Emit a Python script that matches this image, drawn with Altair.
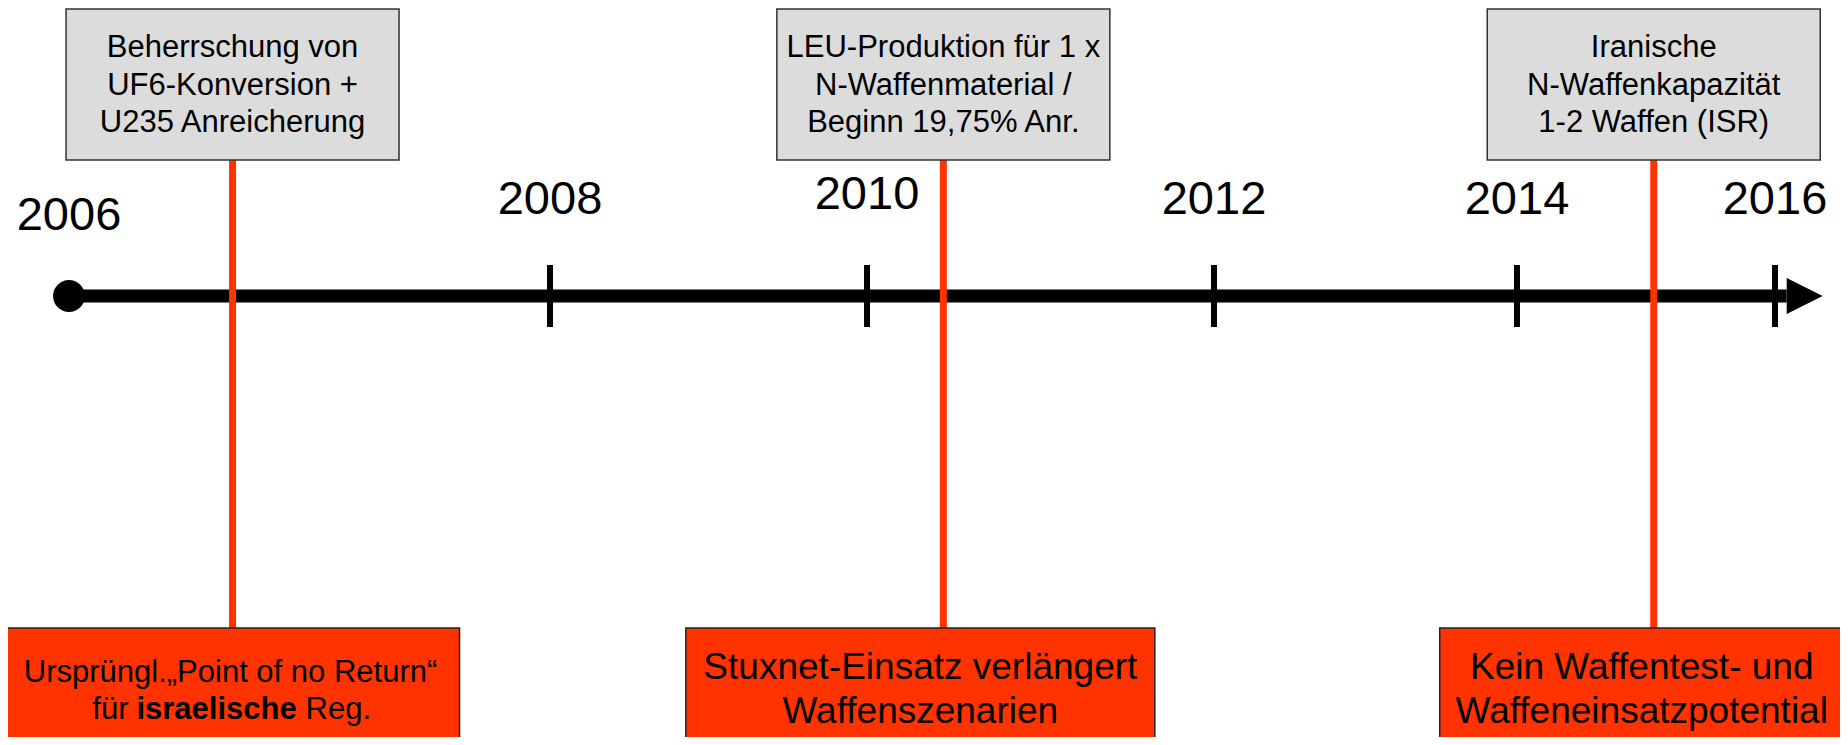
import altair as alt
import pandas as pd

# ---------------- data ----------------
tick_years = [2006, 2008, 2010, 2012, 2014, 2016]
tick_labels = ["2006", "2008", "2010", "2012", "2014", "2016"]
timeline_start = 2006
timeline_end = 2016.09      # where the arrow head starts
arrow_year = 2016.23        # arrow head centre

event_years = [2006.68, 2010.44, 2015.06]
top_texts = [
    "Beherrschung von\nUF6-Konversion +\nU235 Anreicherung",
    "LEU-Produktion für 1 x\nN-Waffenmaterial /\nBeginn 19,75% Anr.",
    "Iranische\nN-Waffenkapazität\n1-2 Waffen (ISR)",
]
bottom_texts = [
    "Ursprüngl.„Point of no Return“\nfür israelische Reg.",
    "Stuxnet-Einsatz verlängert\nWaffenszenarien",
    "Kein Waffentest- und\nWaffeneinsatzpotential",
]
bold_word = "israelische"

# ---------------- styles ----------------
FONT = "Liberation Sans"
RED = "#ff3300"
GREY = "#dcdcdc"
# piecewise scale: the original drawing spaces the years unevenly
X_RANGE = [61, 542, 859, 1206, 1509, 1767]
label_y = [208, 192, 187, 192, 192, 192]
bottom_box_width = [454, 469, 420]
bottom_box_shift = [0, -23, -4]
bottom_text_shift = [-2, -23, -12]
bottom_font = [31, 37, 37]
bottom_line_h = [37, 44, 44]

W, H = 1832, 729

xscale = alt.Scale(domain=tick_years, range=X_RANGE, zero=False, nice=False)


def X(field):
    return alt.X(f"{field}:Q", scale=xscale, axis=None)


events = pd.DataFrame({"year": event_years, "top": top_texts, "bottom": bottom_texts})
ticks = pd.DataFrame({"year": tick_years, "label": tick_labels})
span = pd.DataFrame({"start": [timeline_start], "end": [timeline_end]})

layers = []

# main timeline bar
layers.append(
    alt.Chart(span).mark_rule(color="black", strokeWidth=13).encode(
        x=X("start"), x2="end", y=alt.value(288)
    )
)
# tick marks (all but the first year, which has the dot)
layers.append(
    alt.Chart(ticks.iloc[1:]).mark_rule(color="black", strokeWidth=6).encode(
        x=X("year"), y=alt.value(257), y2=alt.value(319)
    )
)
# start dot
layers.append(
    alt.Chart(ticks.iloc[:1]).mark_point(
        shape="circle", filled=True, size=1018, color="black", opacity=1
    ).encode(x=X("year"), y=alt.value(288))
)
# arrow head
layers.append(
    alt.Chart(pd.DataFrame({"year": [arrow_year]})).mark_point(
        shape="M-1,-1L1,0L-1,1Z", filled=True, size=1296, color="black", opacity=1
    ).encode(x=X("year"), y=alt.value(288))
)
# year labels
for i in range(len(tick_years)):
    layers.append(
        alt.Chart(ticks.iloc[i : i + 1]).mark_text(
            font=FONT, fontSize=47, color="black", baseline="middle", align="center"
        ).encode(x=X("year"), y=alt.value(label_y[i]), text="label:N")
    )
# red connector lines
layers.append(
    alt.Chart(events).mark_rule(color=RED, strokeWidth=7).encode(
        x=X("year"), y=alt.value(152), y2=alt.value(620)
    )
)
# grey boxes on top
layers.append(
    alt.Chart(events).mark_rect(
        width=333, fill=GREY, stroke="#333333", strokeWidth=1.5
    ).encode(x=X("year"), y=alt.value(1), y2=alt.value(152))
)
layers.append(
    alt.Chart(events).mark_text(
        font=FONT, fontSize=31, lineHeight=37.5, baseline="middle",
        align="center", color="black", lineBreak="\n"
    ).encode(x=X("year"), y=alt.value(40), text="top:N")
)
# red boxes at the bottom
for i in range(len(event_years)):
    row = events.iloc[i : i + 1]
    layers.append(
        alt.Chart(row).mark_rect(
            width=bottom_box_width[i], xOffset=bottom_box_shift[i],
            fill=RED, stroke="#222222", strokeWidth=1.5
        ).encode(x=X("year"), y=alt.value(620), y2=alt.value(800))
    )
    lines = bottom_texts[i].split("\n")
    if bold_word in lines[1]:
        # first line normal
        layers.append(
            alt.Chart(row).mark_text(
                font=FONT, fontSize=bottom_font[i], baseline="middle", align="center",
                color="black", dx=bottom_text_shift[i]
            ).encode(x=X("year"), y=alt.value(665), text=alt.value(lines[0]))
        )
        pre, post = lines[1].split(bold_word)
        layers.append(
            alt.Chart(row).mark_text(
                font=FONT, fontSize=bottom_font[i], baseline="middle", align="right",
                color="black", dx=bottom_text_shift[i] - 102
            ).encode(x=X("year"), y=alt.value(702), text=alt.value(pre.strip()))
        )
        layers.append(
            alt.Chart(row).mark_text(
                font=FONT, fontSize=bottom_font[i], fontWeight="bold", baseline="middle",
                align="center", color="black", dx=bottom_text_shift[i] - 14
            ).encode(x=X("year"), y=alt.value(702), text=alt.value(bold_word))
        )
        layers.append(
            alt.Chart(row).mark_text(
                font=FONT, fontSize=bottom_font[i], baseline="middle", align="left",
                color="black", dx=bottom_text_shift[i] + 75
            ).encode(x=X("year"), y=alt.value(702), text=alt.value(post.strip()))
        )
    else:
        layers.append(
            alt.Chart(row).mark_text(
                font=FONT, fontSize=bottom_font[i], lineHeight=bottom_line_h[i],
                baseline="middle", align="center", color="black",
                dx=bottom_text_shift[i], lineBreak="\n"
            ).encode(x=X("year"), y=alt.value(660), text="bottom:N")
        )

chart = (
    alt.layer(*layers)
    .properties(width=W, height=H, padding=0, autosize=alt.AutoSizeParams(type="none"))
    .configure_view(stroke=None)
)

chart.save("out.html", embed_options={"renderer": "svg", "actions": False})
